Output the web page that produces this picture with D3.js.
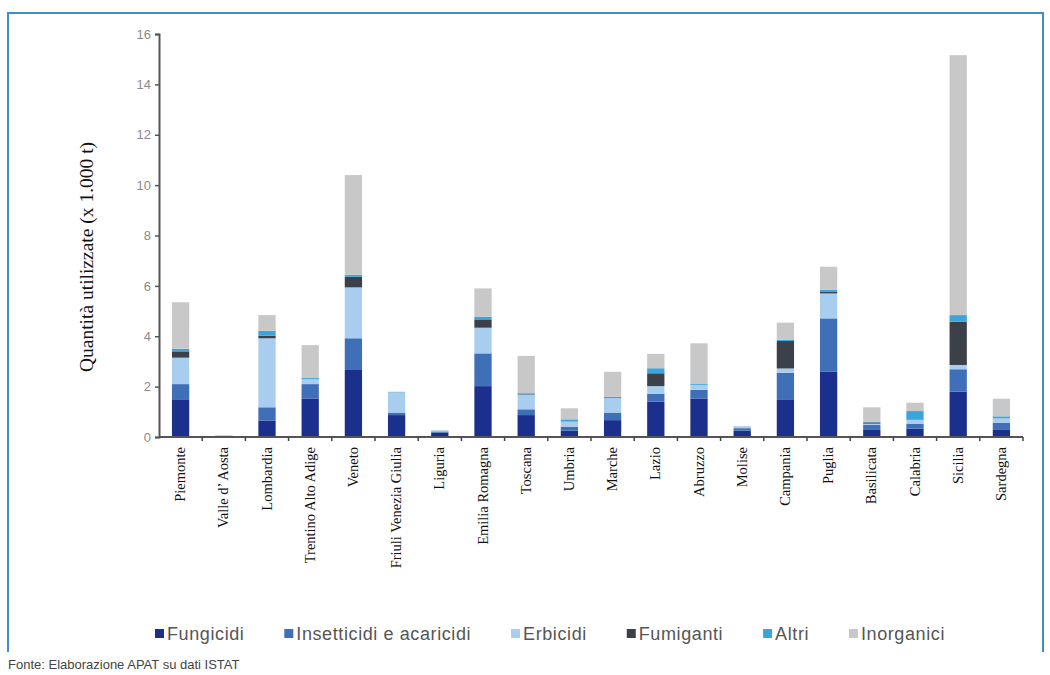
<!DOCTYPE html>
<html>
<head>
<meta charset="utf-8">
<script src="https://cdn.jsdelivr.net/npm/d3@7"></script>
<style>
  html, body { margin: 0; padding: 0; background: #fff; }
  svg { display: block; }
</style>
</head>
<body>
<svg id="chart" width="1050" height="675"></svg>
<script>
// Regioni italiane
const regions = ["Piemonte", "Valle d\u2019 Aosta", "Lombardia", "Trentino Alto Adige", "Veneto",
  "Friuli Venezia Giulia", "Liguria", "Emilia Romagna", "Toscana", "Umbria", "Marche", "Lazio",
  "Abruzzo", "Molise", "Campania", "Puglia", "Basilicata", "Calabria", "Sicilia", "Sardegna"];

// Quantità per categoria di prodotto (migliaia di tonnellate)
const fungicidi   = [1.47, 0.03, 0.65, 1.53, 2.66, 0.87, 0.17, 2.02, 0.87, 0.25, 0.67, 1.40, 1.53, 0.25, 1.47, 2.59, 0.28, 0.33, 1.80, 0.28];
const insetticidi = [0.63, 0.01, 0.53, 0.57, 1.26, 0.10, 0.05, 1.30, 0.23, 0.16, 0.30, 0.31, 0.34, 0.10, 1.08, 2.12, 0.20, 0.20, 0.89, 0.29];
const erbicidi    = [1.05, 0.02, 2.74, 0.19, 2.02, 0.79, 0.02, 1.02, 0.57, 0.20, 0.57, 0.31, 0.19, 0.06, 0.17, 0.99, 0.05, 0.15, 0.17, 0.17];
const fumiganti   = [0.25, 0.00, 0.10, 0.00, 0.42, 0.00, 0.00, 0.33, 0.02, 0.00, 0.00, 0.51, 0.00, 0.00, 1.09, 0.06, 0.05, 0.00, 1.72, 0.00];
const altri       = [0.10, 0.00, 0.20, 0.05, 0.08, 0.02, 0.01, 0.11, 0.05, 0.09, 0.05, 0.20, 0.04, 0.01, 0.05, 0.08, 0.02, 0.35, 0.26, 0.08];
const inorganici  = [1.85, 0.02, 0.62, 1.31, 3.96, 0.02, 0.02, 1.12, 1.48, 0.44, 1.00, 0.57, 1.62, 0.02, 0.68, 0.92, 0.58, 0.33, 10.32, 0.70];

const seriesNames = ["Fungicidi", "Insetticidi e acaricidi", "Erbicidi", "Fumiganti", "Altri", "Inorganici"];
const seriesValues = [fungicidi, insetticidi, erbicidi, fumiganti, altri, inorganici];
const seriesColors = ["#1b2f8c", "#3f6fb6", "#a9cdee", "#3c4048", "#3aa5dc", "#c8c8c8"];

const yTicks = [0, 2, 4, 6, 8, 10, 12, 14, 16];

const svg = d3.select("#chart");

// Cornice
svg.append("path")
  .attr("d", "M8,652 V13 H1043 V652")
  .attr("fill", "none")
  .attr("stroke", "#3d8fc6")
  .attr("stroke-width", 2);

const x0 = 159, x1 = 1023, yBase = 437, yTop = 34;

const x = d3.scaleBand().domain(regions).range([x0, x1]).paddingInner(0.6).paddingOuter(0.3);
const y = d3.scaleLinear().domain([0, 16]).range([yBase, yTop]);

// Dati impilati
const table = regions.map((r, i) => {
  const row = { region: r };
  seriesNames.forEach((s, k) => { row[s] = seriesValues[k][i]; });
  return row;
});
const stacked = d3.stack().keys(seriesNames)(table);

const g = svg.append("g");
g.selectAll("g.layer")
  .data(stacked)
  .join("g")
  .attr("class", "layer")
  .attr("fill", (d, k) => seriesColors[k])
  .selectAll("rect")
  .data(d => d)
  .join("rect")
  .attr("x", d => x(d.data.region))
  .attr("width", x.bandwidth())
  .attr("y", d => y(d[1]))
  .attr("height", d => Math.max(0, y(d[0]) - y(d[1])));

// Asse Y
const yAxis = svg.append("g")
  .attr("transform", `translate(${x0},0)`)
  .call(d3.axisLeft(y).tickValues(yTicks).tickSize(4).tickPadding(4).tickFormat(d3.format("d")));
yAxis.select(".domain").attr("stroke", "#555").attr("stroke-width", 2);
yAxis.selectAll(".tick line").attr("stroke", "#555").attr("stroke-width", 1.5);
yAxis.selectAll(".tick text")
  .attr("fill", "#8a8a8a")
  .style("font-family", "'Liberation Sans', Arial, sans-serif")
  .style("font-size", "13px");

// Asse X con tacche tra le categorie
const xAxis = svg.append("g").attr("transform", `translate(0,${yBase})`);
xAxis.append("line")
  .attr("x1", x0).attr("x2", x1)
  .attr("stroke", "#555").attr("stroke-width", 2);
const step = x.step();
xAxis.selectAll("line.sep")
  .data(d3.range(1, regions.length + 1))
  .join("line")
  .attr("class", "sep")
  .attr("x1", k => x0 + k * step).attr("x2", k => x0 + k * step)
  .attr("y1", 0).attr("y2", 4)
  .attr("stroke", "#444").attr("stroke-width", 1.5);

xAxis.selectAll("text.reg")
  .data(regions)
  .join("text")
  .attr("class", "reg")
  .attr("transform", d => `translate(${x(d) + x.bandwidth() / 2 + 4.5},10) rotate(-90)`)
  .attr("text-anchor", "end")
  .attr("fill", "#111")
  .style("font-family", "'Liberation Serif', 'Times New Roman', serif")
  .style("font-size", "14.5px")
  .text(d => d);

// Titolo asse Y
svg.append("text")
  .attr("transform", "translate(93,257) rotate(-90)")
  .attr("text-anchor", "middle")
  .attr("fill", "#111")
  .style("font-family", "'Liberation Serif', 'Times New Roman', serif")
  .style("font-size", "19.5px")
  .text("Quantità utilizzate (x 1.000 t)");

// Legenda: voci disposte in fila tra x=155 e x=945
const legendLeft = 155, legendRight = 945, markerSize = 9, markerGap = 3;
const legend = svg.append("g").attr("transform", "translate(0,634)");
const items = legend.selectAll("g")
  .data(seriesNames)
  .join("g");
items.append("rect")
  .attr("x", 0).attr("y", -5).attr("width", markerSize).attr("height", markerSize)
  .attr("fill", (d, k) => seriesColors[k]);
items.append("text")
  .attr("x", markerSize + markerGap).attr("y", 6)
  .attr("fill", "#555")
  .style("font-family", "'Liberation Sans', Arial, sans-serif")
  .style("font-size", "18px")
  .style("letter-spacing", "0.6px")
  .text(d => d);
const widths = [];
items.each(function () { widths.push(markerSize + markerGap + d3.select(this).select("text").node().getComputedTextLength()); });
const gap = (legendRight - legendLeft - d3.sum(widths)) / (widths.length - 1);
let cursor = legendLeft;
items.attr("transform", (d, k) => {
  const t = `translate(${cursor},0)`;
  cursor += widths[k] + gap;
  return t;
});

// Fonte
svg.append("text")
  .attr("x", 8).attr("y", 669)
  .attr("fill", "#444")
  .style("font-family", "'Liberation Sans Narrow', 'Arial Narrow', sans-serif")
  .style("font-size", "13px")
  .text("Fonte: Elaborazione APAT su dati ISTAT");
</script>
</body>
</html>
